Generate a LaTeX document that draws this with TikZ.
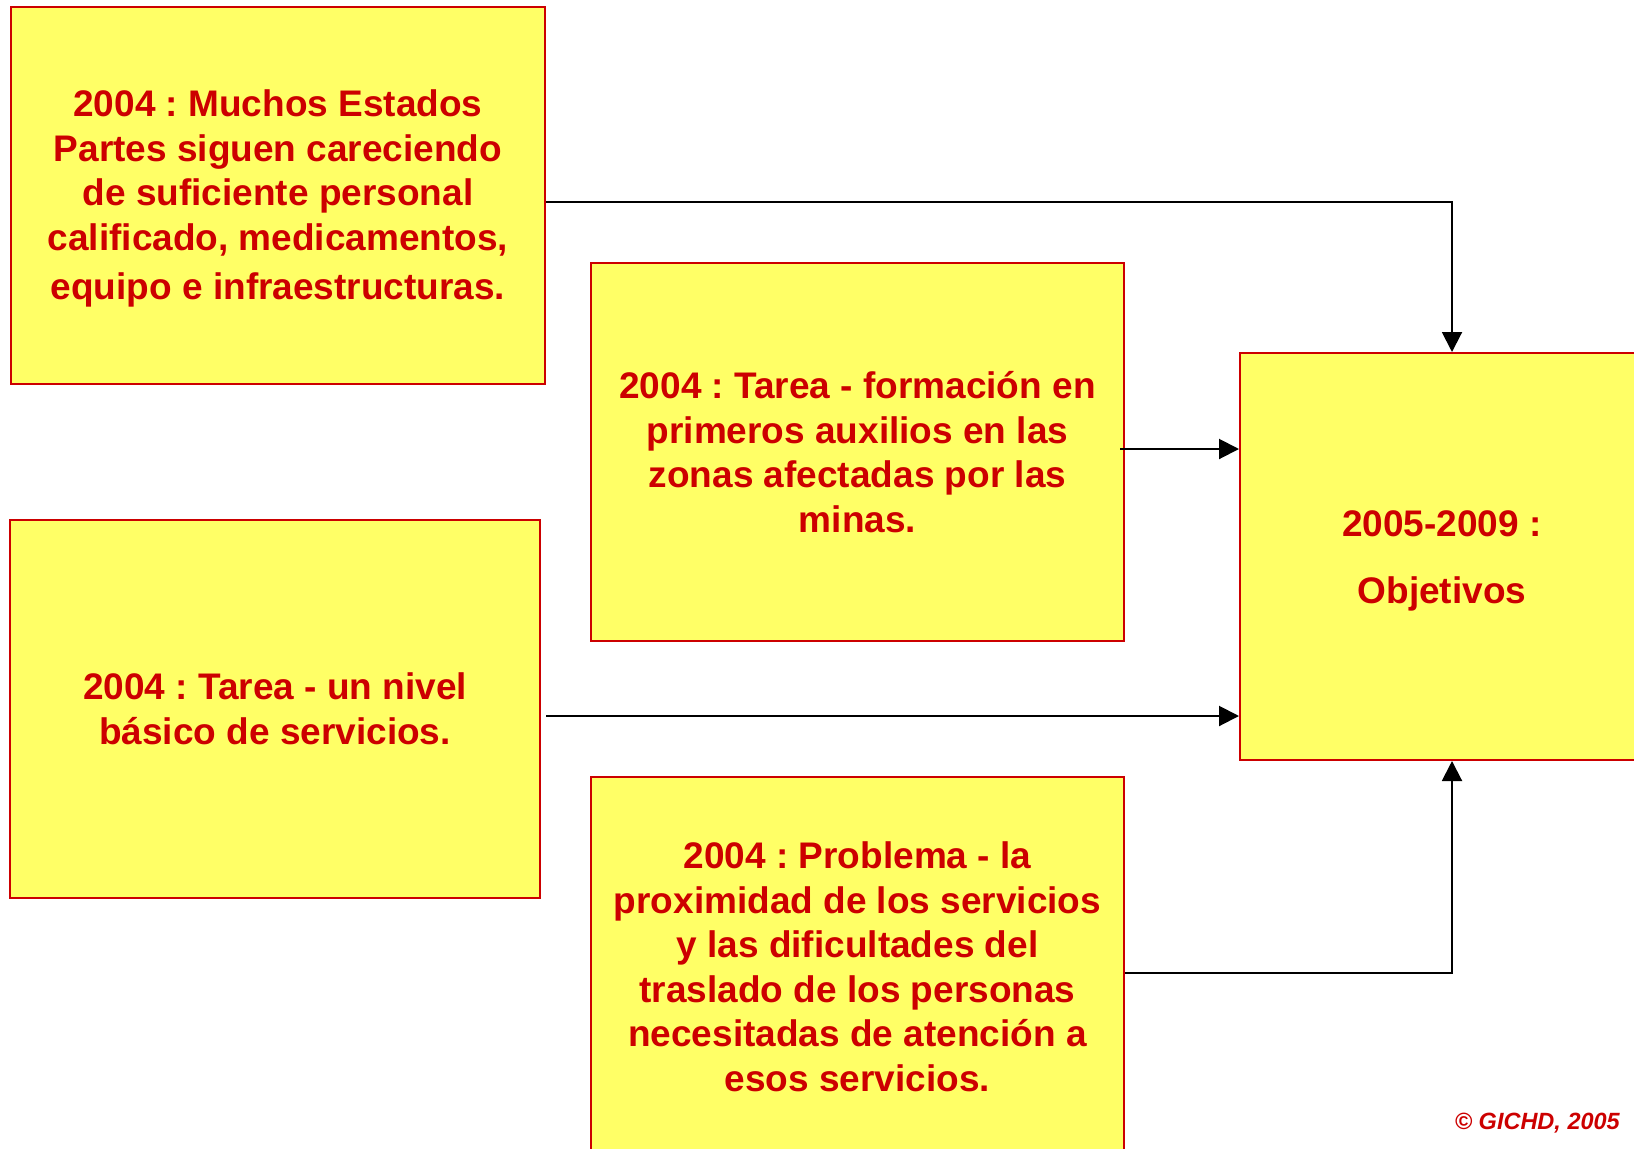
\documentclass[tikz,border=0pt]{standalone}
\usepackage{fontspec}
\setmainfont{Liberation Sans}
\usetikzlibrary{arrows.meta}
\definecolor{rojo}{RGB}{204,0,0}
\definecolor{amarillo}{RGB}{255,255,102}
\frenchspacing

\begin{document}
\begin{tikzpicture}[x=1pt,y=-1pt,
                caja/.style={draw=rojo, line width=2pt, fill=amarillo, text=rojo,
                    font=\fontsize{37}{44.5}\selectfont\bfseries,
                    align=center, inner sep=0pt},
                flecha/.style={line width=2pt, -{Triangle[length=20pt,width=20pt]}}]
            \useasboundingbox (0,0) rectangle (1634,1149);
            \node[caja, minimum width=534pt, minimum height=377pt] (muchos) at (278,195)
                {\rule{0pt}{34pt}2004 : Muchos Estados\\ Partes siguen careciendo\\ de suficiente personal\\
                 calificado, medicamentos,\\[5pt] equipo e infraestructuras.};
            \node[caja, minimum width=533pt, minimum height=378pt] (formacion) at (857.5,452)
                {2004 : Tarea - formación en\\ primeros auxilios en las\\ zonas afectadas por las\\ minas.};
            \node[caja, minimum width=530pt, minimum height=378pt] (servicios) at (275,709)
                {2004 : Tarea - un nivel\\ básico de servicios.};
            \node[caja, minimum width=533pt, minimum height=380pt] (problema) at (857.5,967)
                {2004 : Problema - la\\ proximidad de los servicios\\ y las dificultades del\\
                 traslado de los personas\\ necesitadas de atención a\\ esos servicios.};
            \node[caja, minimum width=404pt, minimum height=407pt] (objetivos) at (1442,556.5)
                {\rule{0pt}{35pt}2005-2009 :\\[22pt] Objetivos};
            % conectores hacia los objetivos
            \draw[flecha] ([yshift=-7pt]muchos.east) -| ([xshift=10pt]objetivos.north);
            \draw[flecha] ([xshift=-5pt,yshift=3pt]formacion.east) coordinate (f1) -- (f1 -| objetivos.west);
            \draw[flecha] ([xshift=5pt,yshift=-7pt]servicios.east) coordinate (s1) -- (s1 -| objetivos.west);
            \draw[flecha] ([yshift=-6pt]problema.east) -| ([xshift=10pt]objetivos.south);
            \node[anchor=east, text=rojo, inner sep=0pt,
                  font=\fontsize{23.5}{27}\selectfont\bfseries\itshape] (derechos) at (1620,1123)
                {© GICHD, 2005};
        \end{tikzpicture}
\end{document}
